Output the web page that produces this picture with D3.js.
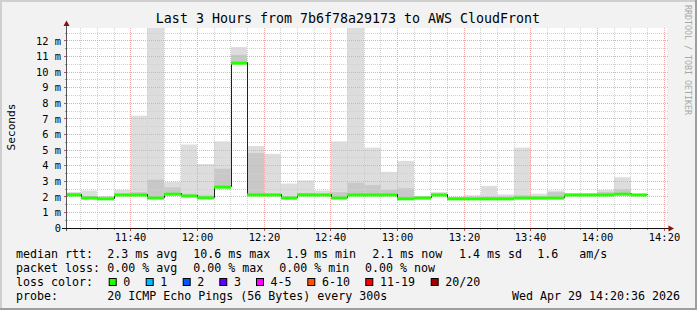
<!DOCTYPE html>
<meta charset="utf-8">
<style>
body { margin: 0; background: #f2f2f2; }
text { font-family: "DejaVu Sans Mono", monospace; fill: #000; }
</style>
<svg width="697" height="310"></svg>
<script src="https://cdn.jsdelivr.net/npm/d3@7"></script>
<script>

// 5 minute slots (start time of each)
var slots = ["11:20","11:25","11:30","11:35","11:40","11:45","11:50","11:55",
  "12:00","12:05","12:10","12:15","12:20","12:25","12:30","12:35","12:40",
  "12:45","12:50","12:55","13:00","13:05","13:10","13:15","13:20","13:25",
  "13:30","13:35","13:40","13:45","13:50","13:55","14:00","14:05","14:10"];

// median rtt per slot (ms)
var median = [2.15,1.95,1.9,2.15,2.15,1.95,2.2,2.08,1.96,2.65,10.6,2.15,2.15,
  1.95,2.15,2.15,1.95,2.15,2.15,2.15,1.9,1.95,2.15,1.9,1.9,1.9,1.9,1.95,1.95,
  1.95,2.15,2.15,2.15,2.2,2.15];

// smoke: slowest ping, inner band top, fastest ping (ms)
var smokeMax = [2.3,2.4,2.05,2.45,7.2,13.5,2.95,5.35,4.1,5.55,11.6,5.25,4.75,
  2.85,3.05,2.4,5.55,13.5,5.15,3.6,4.3,2.05,2.3,2.0,2.1,2.7,2.15,5.15,2.2,
  2.4,2.2,2.2,2.45,3.25,2.2];
var smokeMid = [2.25,2.05,1.95,2.2,2.3,3.1,2.6,2.2,2.1,3.8,11.1,4.8,2.2,
  2.0,2.25,2.2,2.3,2.9,2.75,2.45,2.55,2.0,2.2,1.95,1.95,2.0,2.0,2.1,2.0,
  2.3,2.2,2.2,2.3,2.5,2.15];
var smokeMin = [2.1,1.9,1.85,2.1,2.1,1.9,2.15,2.0,1.88,2.6,10.5,2.1,2.1,
  1.9,2.1,2.1,1.88,2.1,2.1,2.1,1.85,1.9,2.1,1.85,1.85,1.85,1.85,1.9,1.85,
  1.88,2.1,2.1,2.1,2.15,2.1];
var loss = [0,0,0,0,0,0,0,0,0,0,0,0,0,0,0,0,0,0,0,0,0,0,0,0,0,0,0,0,0,0,0,0,0,0,0];

var yTicks = [0,1,2,3,4,5,6,7,8,9,10,11,12];

var statsRtt = [[16,"median rtt:"],[107.3,"2.3 ms avg"],[193.3,"10.6 ms max"],
  [286,"1.9 ms min"],[372.3,"2.1 ms now"],[459,"1.4 ms sd"],[537.3,"1.6"],[579.3,"am/s"]];
var statsLoss = [[16,"packet loss:"],[107.3,"0.00 % avg"],[193.3,"0.00 % max"],
  [279.3,"0.00 % min"],[365,"0.00 % now"]];
var lossLabels = ["0","1","2","3","4-5","6-10","11-19","20/20"];
var lossColors = ["#26ff00","#00b8ff","#0059ff","#5e00ff","#ff00ff","#ff5500","#ff0000","#a10000"];
var lossBoxX = [108.7,145.7,182.7,219.3,256,307.3,365.3,430.7];

var svg = d3.select("svg"),
    W = 697, H = 310;

var parse = function(s) {
  var p = s.split(":");
  return new Date(2026, 3, 29, +p[0], +p[1]);
};
var t0 = new Date(2026, 3, 29, 11, 20, 44),
    t1 = new Date(2026, 3, 29, 14, 20, 44);

var x = d3.scaleTime().domain([t0, t1]).range([66.5, 666.5]);
var y = d3.scaleLinear().domain([0, 200 / 15.6]).range([228, 28]);
var pLeft = 67, pRight = 667, pTop = 28, pBottom = 228;

// frame
svg.append("rect").attr("width", W).attr("height", H).attr("fill", "#f2f2f2");
svg.append("path").attr("d", "M0,1H697M1,0V310").attr("stroke", "#cfcfcf").attr("stroke-width", 2);
svg.append("path").attr("d", "M0,309H697M696,0V310").attr("stroke", "#9e9e9e").attr("stroke-width", 2);
svg.append("rect").attr("x", pLeft).attr("y", pTop).attr("width", pRight - pLeft).attr("height", pBottom - pTop)
    .attr("fill", "#fff");

svg.append("defs").append("clipPath").attr("id", "plot")
  .append("rect").attr("x", pLeft).attr("y", pTop).attr("width", pRight - pLeft).attr("height", pBottom - pTop);

var px = function(v) { return Math.floor(v) + 0.5; };
var five = 5 * 60 * 1000;

// smoke
var g = svg.append("g").attr("clip-path", "url(#plot)");
slots.forEach(function(s, i) {
  var a = Math.round(x(parse(s))), b = Math.round(x(new Date(+parse(s) + five)));
  g.append("rect").attr("x", a).attr("width", b - a)
    .attr("y", y(smokeMax[i])).attr("height", y(smokeMin[i]) - y(smokeMax[i]))
    .attr("fill", "#dddddd");
  g.append("rect").attr("x", a).attr("width", b - a)
    .attr("y", y(smokeMid[i])).attr("height", y(smokeMin[i]) - y(smokeMid[i]))
    .attr("fill", "#c8c8c8");
});

// grid
var grid = svg.append("g");
var minorT = d3.timeMinute.every(5).range(t0, t1);
minorT.forEach(function(t) {
  var major = t.getMinutes() % 20 === 0;
  grid.append("line").attr("x1", px(x(t))).attr("x2", px(x(t))).attr("y1", pTop).attr("y2", pBottom)
    .attr("stroke", major ? "#f0a8a8" : "#d0d0d0").attr("stroke-dasharray", "1,1");
  grid.append("line").attr("x1", px(x(t))).attr("x2", px(x(t))).attr("y1", pBottom).attr("y2", pBottom + (major ? 3 : 2))
    .attr("stroke", major ? "#d05050" : "#8f8f8f");
});
d3.range(0, 13, 0.5).forEach(function(v) {
  var major = v % 1 === 0;
  if (v > 0) grid.append("line").attr("x1", pLeft).attr("x2", pRight + 1).attr("y1", px(y(v))).attr("y2", px(y(v)))
    .attr("stroke", major ? "#f0a8a8" : "#d0d0d0").attr("stroke-dasharray", "1,1");
  grid.append("line").attr("x1", pLeft - (major ? 3 : 2)).attr("x2", pLeft).attr("y1", px(y(v))).attr("y2", px(y(v)))
    .attr("stroke", major ? "#d05050" : "#8f8f8f");
});

// median line
var pts = slots.map(function(s, i) { return [parse(s), median[i]]; });
pts.push([new Date(+parse(slots[slots.length - 1]) + five), median[median.length - 1]]);
var line = d3.line().x(function(d) { return Math.round(x(d[0])) + 0.5; }).y(function(d) { return px(y(d[1])); })
    .curve(d3.curveStepAfter);
var gm = svg.append("g").attr("clip-path", "url(#plot)");
gm.append("path").attr("d", line(pts)).attr("fill", "none").attr("stroke", "#202020").attr("stroke-width", 1);
slots.forEach(function(s, i) {
  var a = Math.round(x(parse(s))), b = Math.round(x(new Date(+parse(s) + five)));
  gm.append("line").attr("x1", a).attr("x2", b).attr("y1", y(median[i]) + 0.5).attr("y2", y(median[i]) + 0.5)
    .attr("stroke", lossColors[loss[i]]).attr("stroke-width", 3);
});

// axes
svg.append("line").attr("x1", 66.5).attr("x2", 66.5).attr("y1", 24).attr("y2", 231)
  .attr("stroke", "#555");
svg.append("line").attr("x1", 62).attr("x2", 670).attr("y1", 228.5).attr("y2", 228.5)
  .attr("stroke", "#111");
svg.append("path").attr("d", "M66.5,20.5L63.5,26L69.5,26Z").attr("fill", "#8b1010");
svg.append("path").attr("d", "M674,228.5L668.5,225.5L668.5,231.5Z").attr("fill", "#8b1010");

// tick labels
svg.selectAll(".yl").data(yTicks).enter().append("text")
    .attr("x", 61).attr("y", function(d) { return y(d) + 3.8; })
    .attr("text-anchor", "end").style("font-size", "10.4px")
    .text(function(d) { return d === 0 ? "0" : d + " m"; });
var fmt = d3.timeFormat("%H:%M");
svg.selectAll(".xl").data(d3.timeMinute.every(20).range(t0, new Date(+t1 + 1))).enter().append("text")
    .attr("x", function(d) { return px(x(d)); }).attr("y", 240.5)
    .attr("text-anchor", "middle").style("font-size", "10.4px")
    .text(fmt);

// titles
svg.append("text").attr("x", 348).attr("y", 23).attr("text-anchor", "middle")
  .style("font-size", "13.3px").text("Last 3 Hours from 7b6f78a29173 to AWS CloudFront");
svg.append("text").attr("transform", "translate(14.5,127) rotate(-90)").attr("text-anchor", "middle")
  .style("font-size", "11.2px").text("Seconds");
svg.append("text").attr("transform", "translate(685,5) rotate(90)")
  .style("font-size", "8.3px").style("fill", "#a8a8a8").text("RRDTOOL / TOBI OETIKER");

// legend
var fs = "11.63px";
function row(items, yy) {
  items.forEach(function(d) {
    svg.append("text").attr("x", d[0]).attr("y", yy).style("font-size", fs)
      .attr("xml:space", "preserve").text(d[1]);
  });
}
row(statsRtt, 258);
row(statsLoss, 271.5);
row([[16, "loss color:"]], 286);
lossLabels.forEach(function(l, i) {
  svg.append("rect").attr("x", lossBoxX[i] + 0.5).attr("y", 278.5).attr("width", 7).attr("height", 7)
    .attr("fill", lossColors[i]).attr("stroke", "#000");
  svg.append("text").attr("x", lossBoxX[i] + 14.6).attr("y", 286).style("font-size", fs).text(l);
});
row([[16, "probe:"], [107.3, "20 ICMP Echo Pings (56 Bytes) every 300s"]], 299.5);
svg.append("text").attr("x", 680).attr("y", 299.5).attr("text-anchor", "end").style("font-size", fs)
  .text("Wed Apr 29 14:20:36 2026");

</script>
